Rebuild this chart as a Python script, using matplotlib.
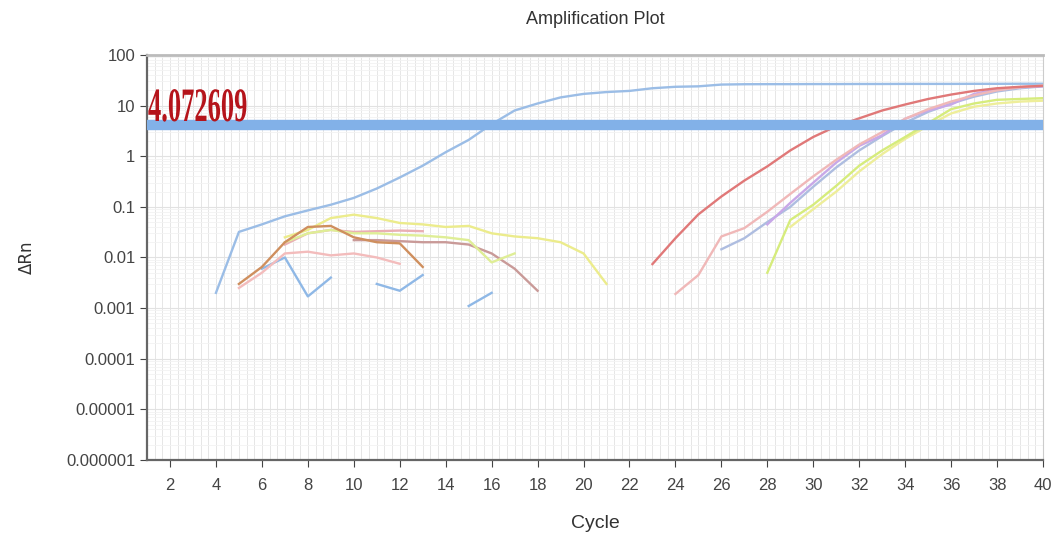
import numpy as np
import matplotlib
matplotlib.use("Agg")
from matplotlib import pyplot as plt
from matplotlib import font_manager
from matplotlib.textpath import TextPath
from matplotlib.patches import PathPatch
from matplotlib.font_manager import FontProperties
from matplotlib.transforms import Affine2D

# Pick a narrow sans if it is there
names = {f.name for f in font_manager.fontManager.ttflist}
narrow = "Liberation Sans Narrow" if "Liberation Sans Narrow" in names else "Liberation Sans"

# Threshold
threshold = 4.072609

# Amplification curves (cycle, delta Rn); NaN breaks a line where the value dropped below zero
blue_main_cyc = list(range(4, 41))
blue_main = [0.002, 0.032, 0.045, 0.065, 0.085, 0.11, 0.15, 0.23, 0.38, 0.65, 1.2, 2.1, 4.3,
             8.0, 11, 14.5, 17, 18.5, 19.5, 22, 23.5, 24, 26, 26.4, 26.5, 26.5, 26.6, 26.6,
             26.7, 26.7, 26.8, 26.8, 26.8, 26.9, 26.9, 27.0, 27.0]

blue_frag_cyc = [6, 7, 8, 9, 10, 11, 12, 13, 14, 15, 16]
blue_frag = [0.006, 0.01, 0.0017, 0.004, np.nan, 0.003, 0.0022, 0.0045, np.nan, 0.0011, 0.002]

orange_cyc = [5, 6, 7, 8, 9, 10, 11, 12, 13]
orange = [0.003, 0.0065, 0.02, 0.04, 0.042, 0.025, 0.02, 0.019, 0.0065]

yellow_cyc = list(range(7, 22))
yellow = [0.025, 0.035, 0.06, 0.07, 0.06, 0.048, 0.045, 0.04, 0.042, 0.03, 0.026, 0.024,
          0.02, 0.012, 0.003]

lime_cyc = list(range(7, 18))
lime = [0.02, 0.03, 0.035, 0.03, 0.03, 0.028, 0.027, 0.025, 0.022, 0.008, 0.012]

pink_cyc = [5, 6, 7, 8, 9, 10, 11, 12]
pink = [0.0025, 0.005, 0.012, 0.013, 0.011, 0.012, 0.01, 0.0075]

rose_cyc = [7, 8, 9, 10, 11, 12, 13]
rose = [0.018, 0.03, 0.035, 0.032, 0.033, 0.034, 0.033]

mauve_cyc = list(range(10, 19))
mauve = [0.022, 0.022, 0.021, 0.02, 0.02, 0.018, 0.012, 0.006, 0.0022]

red_cyc = list(range(23, 41))
red = [0.0074, 0.024, 0.071, 0.16, 0.33, 0.63, 1.3, 2.4, 3.9, 5.6, 8.0, 10.5, 13.5, 16.5,
       19.5, 22, 23.5, 24.5]

pink_r_cyc = list(range(24, 41))
pink_r = [0.0019, 0.0045, 0.026, 0.038, 0.08, 0.18, 0.4, 0.85, 1.7, 3.0, 5.5, 8.5, 12, 16,
          20, 23, 25]

lav_cyc = list(range(26, 41))
lav = [0.0145, 0.024, 0.05, 0.1, 0.25, 0.6, 1.3, 2.5, 4.6, 7.5, 11, 15, 19, 22, 24]

purple_cyc = list(range(28, 41))
purple = [0.045, 0.12, 0.3, 0.75, 1.6, 2.6, 5.5, 8, 10.5, 17, 21, 23, 24]

green_cyc = list(range(28, 41))
green = [0.005, 0.055, 0.11, 0.26, 0.65, 1.3, 2.4, 4.5, 8.5, 11, 13, 13.5, 14]

yellow_r_cyc = list(range(29, 41))
yellow_r = [0.04, 0.09, 0.2, 0.5, 1.1, 2.2, 4.0, 7, 9.5, 11, 12, 12.5]

y_ticks = [1e-6, 1e-5, 1e-4, 1e-3, 1e-2, 1e-1, 1, 10, 100]
y_labels = ["0.000001", "0.00001", "0.0001", "0.001", "0.01", "0.1", "1", "10", "100"]
x_ticks = list(range(2, 41, 2))

fig = plt.figure(figsize=(10.51, 5.43), dpi=100)
ax = fig.add_axes([0.1399, 0.1529, 0.8525, 0.7459])

# Grid: dense vertical lines, log minor horizontals
for xv in np.arange(1, 40.01, 1 / 3):
    ax.axvline(xv, color="#e6e6e6", lw=0.7, zorder=0)
ax.set_yscale("log")
ax.grid(which="minor", axis="y", color="#f3f3f3", lw=0.6)
ax.grid(which="major", axis="y", color="#e2e2e2", lw=0.8)

curves = [
    (blue_frag_cyc, blue_frag, "#8fb8e6"),
    (pink_cyc, pink, "#f3bcbc"),
    (rose_cyc, rose, "#eab0b4"),
    (mauve_cyc, mauve, "#c99a98"),
    (lime_cyc, lime, "#dfee96"),
    (yellow_cyc, yellow, "#ecec8c"),
    (orange_cyc, orange, "#cf8f5e"),
    (blue_main_cyc, blue_main, "#9bbde6"),
    (yellow_r_cyc, yellow_r, "#eeee9a"),
    (green_cyc, green, "#d6ec7c"),
    (lav_cyc, lav, "#aebde0"),
    (purple_cyc, purple, "#c8a8e8"),
    (pink_r_cyc, pink_r, "#f0b8b8"),
    (red_cyc, red, "#e07878"),
]
for cx, cy, col in curves:
    ax.plot(cx, cy, color=col, lw=1.7, zorder=2, solid_joinstyle="round")

ax.axhline(threshold, color="#82b1e8", lw=7.5, zorder=3)

ax.set_xlim(1, 40)
ax.set_ylim(1e-6, 100)
ax.set_yticks(y_ticks)
ax.set_yticklabels(y_labels)
ax.yaxis.set_minor_locator(matplotlib.ticker.LogLocator(subs=np.arange(2, 10)))
ax.yaxis.set_minor_formatter(matplotlib.ticker.NullFormatter())
ax.set_xticks(x_ticks)
ax.tick_params(axis="y", which="minor", length=0)
ax.tick_params(axis="both", which="major", labelsize=12, colors="#444444", length=5)
ax.tick_params(axis="x", pad=8)
for lab in ax.get_xticklabels() + ax.get_yticklabels():
    lab.set_fontfamily(narrow)

for s in ["left", "bottom"]:
    ax.spines[s].set_color("#666666")
    ax.spines[s].set_linewidth(1.6)
ax.spines["top"].set_color("#bbbbbb")
ax.spines["top"].set_linestyle((0, (2, 1)))
ax.spines["top"].set_linewidth(2)
ax.spines["right"].set_color("#cccccc")

ax.set_title("Amplification Plot", fontsize=13, color="#333333", family=narrow, pad=22)
ax.set_xlabel("Cycle", fontsize=14, color="#333333", family=narrow, labelpad=16)
ax.set_ylabel("ΔRn", fontsize=12, color="#333333", labelpad=22)

# Threshold value in a condensed red serif, placed in pixels
tp = TextPath((0, 0), "4.072609", size=1,
              prop=FontProperties(family="Liberation Serif", weight="bold"))
tr = Affine2D().scale(26.5, 48).translate(148, 543 - 121)
ax.add_artist(PathPatch(tp, transform=tr, color="#b5141b", lw=0, zorder=5))

fig.savefig("out.png", dpi=100)
